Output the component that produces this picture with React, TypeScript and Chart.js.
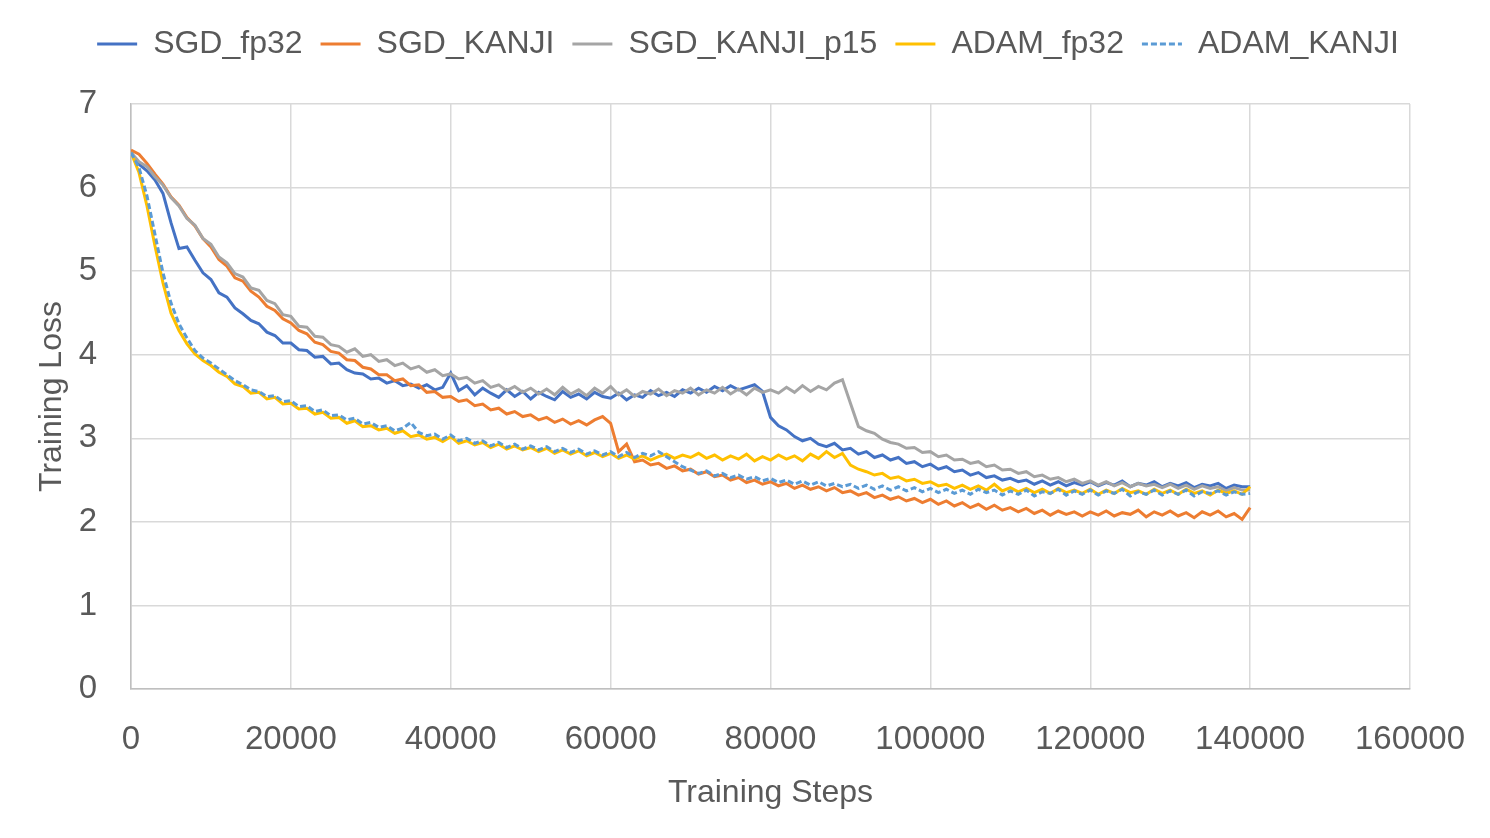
import React, { useEffect, useRef } from "react";
import { Chart, registerables } from "chart.js";

Chart.register(...registerables);

const FONT = "'Liberation Sans', Arial, sans-serif";
const TEXT = "#595959";

// Training steps in thousands
const STEPS_K = [
  0, 1, 2, 3, 4, 5, 6, 7, 8, 9,
  10, 11, 12, 13, 14, 15, 16, 17, 18, 19,
  20, 21, 22, 23, 24, 25, 26, 27, 28, 29,
  30, 31, 32, 33, 34, 35, 36, 37, 38, 39,
  40, 41, 42, 43, 44, 45, 46, 47, 48, 49,
  50, 51, 52, 53, 54, 55, 56, 57, 58, 59,
  60, 61, 62, 63, 64, 65, 66, 67, 68, 69,
  70, 71, 72, 73, 74, 75, 76, 77, 78, 79,
  80, 81, 82, 83, 84, 85, 86, 87, 88, 89,
  90, 91, 92, 93, 94, 95, 96, 97, 98, 99,
  100, 101, 102, 103, 104, 105, 106, 107, 108, 109,
  110, 111, 112, 113, 114, 115, 116, 117, 118, 119,
  120, 121, 122, 123, 124, 125, 126, 127, 128, 129,
  130, 131, 132, 133, 134, 135, 136, 137, 138, 139,
  140,
];

const SGD_FP32 = [
  6.42, 6.28, 6.20, 6.09, 5.93, 5.58, 5.27, 5.29, 5.13, 4.98,
  4.90, 4.74, 4.69, 4.56, 4.49, 4.41, 4.37, 4.27, 4.23, 4.14,
  4.14, 4.06, 4.05, 3.97, 3.98, 3.89, 3.90, 3.82, 3.78, 3.77,
  3.71, 3.72, 3.66, 3.69, 3.63, 3.65, 3.60, 3.64, 3.58, 3.61,
  3.78, 3.57, 3.63, 3.52, 3.60, 3.54, 3.49, 3.58, 3.50, 3.56,
  3.47, 3.55, 3.50, 3.46, 3.56, 3.49, 3.53, 3.47, 3.55, 3.50,
  3.48, 3.54, 3.46, 3.52, 3.49, 3.57, 3.51, 3.55, 3.50, 3.58,
  3.54, 3.60, 3.55, 3.62, 3.57, 3.63, 3.58, 3.61, 3.64, 3.56,
  3.25, 3.15, 3.10, 3.02, 2.97, 3.00, 2.93, 2.90, 2.94, 2.86,
  2.88, 2.81, 2.84, 2.77, 2.80, 2.74, 2.77, 2.70, 2.72, 2.66,
  2.69, 2.63, 2.66, 2.60, 2.62, 2.56, 2.59, 2.53, 2.55, 2.50,
  2.52, 2.48, 2.50, 2.45, 2.49, 2.44, 2.48, 2.43, 2.47, 2.44,
  2.48, 2.43, 2.47, 2.44, 2.49, 2.42, 2.46, 2.44, 2.48, 2.42,
  2.46, 2.43, 2.47, 2.41, 2.45, 2.43, 2.46, 2.40, 2.44, 2.42,
  2.42,
];

const SGD_KANJI = [
  6.45, 6.40, 6.29, 6.16, 6.04, 5.89, 5.79, 5.64, 5.54, 5.39,
  5.29, 5.14, 5.06, 4.92, 4.88, 4.76, 4.69, 4.58, 4.53, 4.43,
  4.38, 4.29, 4.25, 4.15, 4.12, 4.04, 4.02, 3.94, 3.93, 3.85,
  3.83, 3.76, 3.76, 3.69, 3.71, 3.63, 3.64, 3.55, 3.56, 3.49,
  3.50, 3.44, 3.46, 3.39, 3.41, 3.34, 3.36, 3.29, 3.32, 3.26,
  3.28, 3.22, 3.25, 3.19, 3.23, 3.17, 3.21, 3.16, 3.22, 3.26,
  3.18, 2.84, 2.93, 2.72, 2.74, 2.68, 2.70, 2.64, 2.67, 2.61,
  2.63, 2.57, 2.60, 2.54, 2.56, 2.50, 2.53, 2.47, 2.50, 2.45,
  2.48, 2.43, 2.46, 2.40, 2.44, 2.39, 2.42, 2.37, 2.41, 2.35,
  2.37, 2.32, 2.35, 2.29, 2.32, 2.27, 2.30, 2.25, 2.28, 2.23,
  2.27, 2.21, 2.25, 2.19, 2.23, 2.17, 2.21, 2.15, 2.20, 2.14,
  2.17, 2.12, 2.16, 2.10, 2.14, 2.08, 2.13, 2.09, 2.12, 2.07,
  2.12, 2.08, 2.13, 2.07, 2.11, 2.09, 2.14, 2.06, 2.12, 2.08,
  2.13, 2.07, 2.11, 2.05, 2.12, 2.08, 2.13, 2.06, 2.10, 2.03,
  2.17,
];

const SGD_KANJI_P15 = [
  6.42, 6.31, 6.25, 6.13, 6.03, 5.88, 5.78, 5.63, 5.55, 5.39,
  5.32, 5.17, 5.10, 4.97, 4.93, 4.80, 4.77, 4.65, 4.61, 4.48,
  4.46, 4.34, 4.33, 4.22, 4.21, 4.12, 4.10, 4.03, 4.07, 3.98,
  4.00, 3.92, 3.94, 3.87, 3.90, 3.83, 3.86, 3.79, 3.82, 3.75,
  3.77, 3.71, 3.73, 3.66, 3.69, 3.61, 3.64, 3.57, 3.62, 3.55,
  3.60, 3.53, 3.59, 3.52, 3.61, 3.53, 3.58, 3.51, 3.60, 3.54,
  3.62, 3.52, 3.58, 3.50, 3.56, 3.53, 3.59, 3.51, 3.57, 3.54,
  3.60, 3.52, 3.58, 3.54, 3.61, 3.53, 3.59, 3.52, 3.60, 3.55,
  3.58, 3.54, 3.61, 3.55, 3.63, 3.56, 3.62, 3.58, 3.66, 3.70,
  3.42, 3.14, 3.09, 3.06, 2.99, 2.95, 2.93, 2.88, 2.89, 2.83,
  2.84, 2.78, 2.80, 2.74, 2.75, 2.70, 2.72, 2.66, 2.68, 2.62,
  2.63, 2.58, 2.60, 2.54, 2.56, 2.51, 2.53, 2.48, 2.51, 2.46,
  2.49, 2.44, 2.48, 2.43, 2.47, 2.42, 2.46, 2.43, 2.45, 2.41,
  2.45, 2.40, 2.44, 2.39, 2.43, 2.40, 2.42, 2.37, 2.41, 2.38,
  2.38,
];

const ADAM_FP32 = [
  6.42, 6.18, 5.78, 5.30, 4.86, 4.50, 4.29, 4.13, 4.01, 3.93,
  3.87, 3.79, 3.74, 3.65, 3.62, 3.54, 3.55, 3.47, 3.49, 3.41,
  3.42, 3.35, 3.36, 3.29, 3.31, 3.24, 3.25, 3.18, 3.21, 3.14,
  3.15, 3.10, 3.12, 3.06, 3.09, 3.02, 3.04, 2.99, 3.01, 2.96,
  3.02, 2.94, 2.97, 2.92, 2.95, 2.89, 2.93, 2.87, 2.91, 2.86,
  2.89, 2.84, 2.88, 2.82, 2.86, 2.81, 2.85, 2.79, 2.83, 2.78,
  2.82, 2.76, 2.80, 2.75, 2.79, 2.74, 2.78, 2.81, 2.76, 2.80,
  2.77, 2.82, 2.76, 2.80, 2.74, 2.79, 2.75, 2.81, 2.73, 2.78,
  2.74, 2.80, 2.75, 2.79, 2.73, 2.81, 2.76, 2.84, 2.77, 2.82,
  2.68, 2.63, 2.60, 2.56, 2.58, 2.52, 2.54, 2.49, 2.51, 2.46,
  2.48, 2.43, 2.45, 2.40, 2.44, 2.39, 2.43, 2.38, 2.45, 2.37,
  2.41, 2.36, 2.40, 2.35, 2.39, 2.34, 2.40, 2.35, 2.38, 2.34,
  2.39, 2.33, 2.38, 2.34, 2.40, 2.35, 2.37, 2.33, 2.39, 2.34,
  2.38, 2.33, 2.39, 2.34, 2.37, 2.32, 2.38, 2.34, 2.37, 2.33,
  2.42,
];

const ADAM_KANJI = [
  6.42, 6.24, 5.90, 5.44, 4.98, 4.62, 4.37, 4.20, 4.05, 3.96,
  3.90, 3.83, 3.76, 3.69, 3.64, 3.58, 3.56, 3.50, 3.51, 3.44,
  3.45, 3.38, 3.39, 3.32, 3.34, 3.27, 3.28, 3.22, 3.24, 3.17,
  3.19, 3.13, 3.15, 3.09, 3.12, 3.19, 3.07, 3.03, 3.05, 2.99,
  3.04, 2.97, 3.00, 2.94, 2.97, 2.91, 2.95, 2.89, 2.93, 2.87,
  2.91, 2.86, 2.90, 2.84, 2.88, 2.83, 2.87, 2.81, 2.85, 2.80,
  2.84, 2.78, 2.83, 2.77, 2.82, 2.79, 2.84, 2.78, 2.72, 2.66,
  2.62, 2.58, 2.61, 2.55, 2.58, 2.53, 2.56, 2.51, 2.54, 2.49,
  2.52, 2.47, 2.50, 2.45, 2.49, 2.44, 2.48, 2.43, 2.46, 2.42,
  2.45, 2.40, 2.44, 2.39, 2.43, 2.38, 2.42, 2.37, 2.41, 2.36,
  2.40, 2.35, 2.39, 2.34, 2.38, 2.33, 2.39, 2.35, 2.38, 2.32,
  2.37, 2.33, 2.38, 2.31, 2.36, 2.34, 2.39, 2.32, 2.37, 2.33,
  2.38, 2.32, 2.37, 2.34, 2.39, 2.31, 2.36, 2.33, 2.38, 2.32,
  2.37, 2.33, 2.38, 2.31, 2.36, 2.34, 2.37, 2.32, 2.36, 2.33,
  2.34,
];

const SERIES_NAMES = ["SGD_fp32", "SGD_KANJI", "SGD_KANJI_p15", "ADAM_fp32", "ADAM_KANJI"];
const SERIES_COLORS = ["#4472C4", "#ED7D31", "#A5A5A5", "#FFC000", "#5B9BD5"];
const SERIES_DASH = [[], [], [], [], [6, 3]];
const X_TITLE = "Training Steps";
const Y_TITLE = "Training Loss";

const LEGEND_EXTRA = 34;
const LEGEND_SHIFT_X = 38;
const LINE_W = 3;

export default function App() {
  const ref = useRef<HTMLCanvasElement>(null);

  useEffect(() => {
    if (!ref.current) return;
    const steps = STEPS_K.map((k) => k * 1000);
    const toPts = (arr: number[]) => arr.map((v, i) => ({ x: steps[i], y: v }));
    const values = [SGD_FP32, SGD_KANJI, SGD_KANJI_P15, ADAM_FP32, ADAM_KANJI];

    const legendSpacer = {
      id: "legendSpacer",
      afterInit(chart: any) {
        const lg = chart.legend;
        if (lg && !lg._patched) {
          const orig = lg.fit;
          lg.fit = function () {
            orig.call(this);
            this.height += LEGEND_EXTRA;
          };
          lg._patched = true;
        }
      },
      afterLayout(chart: any) {
        const lg = chart.legend;
        if (lg) {
          lg.left += LEGEND_SHIFT_X;
          lg.right += LEGEND_SHIFT_X;
        }
      },
    };

    const defaultLabels = (Chart.defaults as any).plugins.legend.labels.generateLabels;

    const chart = new Chart(ref.current, {
      type: "line",
      data: {
        datasets: values.map((arr, i) => ({
          label: SERIES_NAMES[i],
          data: toPts(arr),
          borderColor: SERIES_COLORS[i],
          backgroundColor: SERIES_COLORS[i],
          borderWidth: LINE_W,
          borderDash: SERIES_DASH[i],
          pointRadius: 0,
          tension: 0,
          fill: false,
          order: 5 - i,
        })),
      },
      options: {
        animation: false,
        responsive: true,
        maintainAspectRatio: false,
        layout: { padding: { top: 10, right: 80, bottom: 0, left: 10 } },
        plugins: {
          legend: {
            position: "top",
            labels: {
              usePointStyle: true,
              pointStyle: "line",
              pointStyleWidth: 40,
              padding: 18,
              color: TEXT,
              font: { family: FONT, size: 32 },
              sort: (a: any, b: any) => a.datasetIndex - b.datasetIndex,
              generateLabels: (c: any) =>
                defaultLabels(c).map((item: any) => ({
                  ...item,
                  strokeStyle: SERIES_COLORS[item.datasetIndex],
                  lineDash: SERIES_DASH[item.datasetIndex],
                  lineWidth: LINE_W,
                  pointStyle: "line",
                })),
            },
          },
          tooltip: { enabled: false },
        },
        scales: {
          x: {
            type: "linear",
            min: 0,
            max: 160000,
            ticks: {
              stepSize: 20000,
              color: TEXT,
              font: { family: FONT, size: 33 },
              padding: 31,
              maxRotation: 0,
              callback: (v: any) => String(v),
            },
            grid: { color: "#D9D9D9", lineWidth: 1.5, drawTicks: false },
            border: { color: "#BFBFBF", width: 1.5 },
            title: {
              display: true,
              text: X_TITLE,
              color: TEXT,
              font: { family: FONT, size: 32 },
              padding: { top: 0, bottom: 26 },
            },
            afterFit: (s: any) => {
              s.height = 149;
              s.paddingRight = 80;
            },
          },
          y: {
            min: 0,
            max: 7,
            ticks: {
              stepSize: 1,
              color: TEXT,
              font: { family: FONT, size: 33 },
              padding: 34,
            },
            grid: { color: "#D9D9D9", lineWidth: 1.5, drawTicks: false },
            border: { color: "#BFBFBF", width: 1.5 },
            title: {
              display: true,
              text: Y_TITLE,
              color: TEXT,
              font: { family: FONT, size: 32 },
              padding: { top: 23, bottom: 0 },
            },
            afterFit: (s: any) => {
              s.width = 121;
            },
          },
        },
      },
      plugins: [legendSpacer],
    } as any);

    return () => chart.destroy();
  }, []);

  return (
    <div style={{ position: "fixed", left: 0, top: 0, width: 1490, height: 838, background: "#fff" }}>
      <canvas ref={ref} />
    </div>
  );
}
